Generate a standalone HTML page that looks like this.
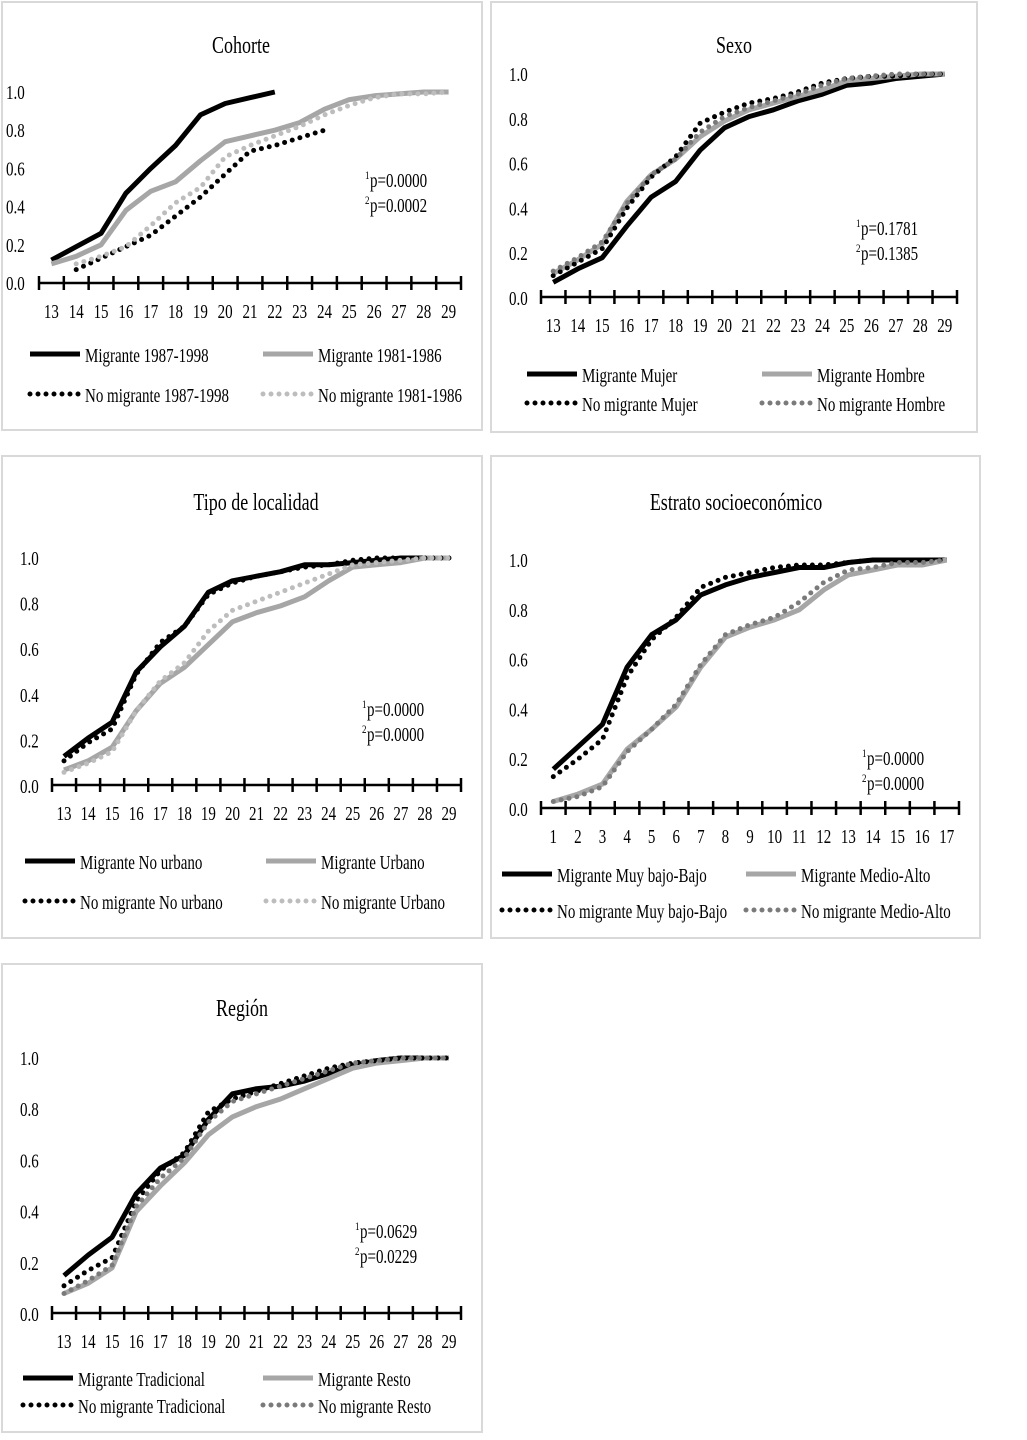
<!DOCTYPE html>
<html><head><meta charset="utf-8"><style>body{margin:0;background:#fff}svg{display:block}</style></head>
<body>
<svg id="chart" width="1027" height="1440" viewBox="0 0 1027 1440" xmlns="http://www.w3.org/2000/svg"></svg>
<script>
// ---- data ----
const agesCats = [13,14,15,16,17,18,19,20,21,22,23,24,25,26,27,28,29];
const estratoCats = [1,2,3,4,5,6,7,8,9,10,11,12,13,14,15,16,17];
const yTicks = ["0.0","0.2","0.4","0.6","0.8","1.0"];

const cohMig8798 = [0.12,0.19,0.26,0.47,0.60,0.72,0.88,0.94,0.97,1.0,null,null,null,null,null,null,null];
const cohMig8186 = [0.10,0.14,0.20,0.38,0.48,0.53,0.64,0.74,0.77,0.80,0.84,0.91,0.96,0.98,0.99,1.0,1.0];
const cohNoMig8798 = [null,0.07,0.13,0.19,0.25,0.35,0.45,0.57,0.69,0.72,0.76,0.80,null,null,null,null,null];
const cohNoMig8186 = [null,0.10,0.14,0.19,0.30,0.42,0.50,0.66,0.72,0.77,0.82,0.88,0.93,0.97,0.99,0.99,1.0];

const sexMigMujer = [0.07,0.13,0.18,0.32,0.45,0.52,0.66,0.76,0.81,0.84,0.88,0.91,0.95,0.96,0.98,0.99,1.0];
const sexMigHombre = [0.11,0.17,0.24,0.43,0.55,0.62,0.72,0.79,0.84,0.87,0.90,0.93,0.97,0.98,0.99,1.0,1.0];
const sexNoMigMujer = [0.10,0.16,0.22,0.40,0.54,0.63,0.78,0.83,0.87,0.89,0.92,0.96,0.98,0.99,0.99,1.0,1.0];
const sexNoMigHombre = [0.12,0.18,0.25,0.42,0.55,0.62,0.74,0.81,0.85,0.88,0.91,0.95,0.98,0.99,1.0,1.0,1.0];

const locMigNoUrb = [0.13,0.21,0.28,0.50,0.61,0.70,0.85,0.90,0.92,0.94,0.97,0.97,0.98,0.99,1.0,1.0,1.0];
const locMigUrb = [0.07,0.11,0.17,0.33,0.45,0.52,0.62,0.72,0.76,0.79,0.83,0.90,0.96,0.97,0.98,1.0,1.0];
const locNoMigNoUrb = [0.11,0.19,0.25,0.49,0.63,0.70,0.84,0.89,0.92,0.94,0.96,0.97,0.99,1.0,1.0,1.0,1.0];
const locNoMigUrb = [0.06,0.10,0.15,0.33,0.46,0.54,0.68,0.77,0.81,0.85,0.89,0.93,0.97,0.98,0.99,1.0,1.0];

const estMigBajo = [0.16,0.25,0.34,0.57,0.70,0.76,0.86,0.90,0.93,0.95,0.97,0.97,0.99,1.0,1.0,1.0,1.0];
const estMigAlto = [0.03,0.06,0.10,0.24,0.32,0.41,0.57,0.69,0.73,0.76,0.80,0.88,0.94,0.96,0.98,0.98,1.0];
const estNoMigBajo = [0.13,0.20,0.28,0.53,0.68,0.77,0.89,0.93,0.95,0.97,0.98,0.98,0.99,1.0,1.0,1.0,1.0];
const estNoMigAlto = [0.03,0.05,0.09,0.23,0.32,0.42,0.58,0.70,0.74,0.77,0.83,0.91,0.96,0.97,0.99,0.99,1.0];

const regMigTrad = [0.15,0.23,0.30,0.47,0.57,0.62,0.76,0.86,0.88,0.89,0.91,0.94,0.97,0.99,1.0,1.0,1.0];
const regMigResto = [0.08,0.12,0.18,0.40,0.50,0.59,0.70,0.77,0.81,0.84,0.88,0.92,0.96,0.98,0.99,1.0,1.0];
const regNoMigTrad = [0.11,0.17,0.22,0.44,0.56,0.63,0.79,0.84,0.87,0.90,0.93,0.96,0.98,0.99,1.0,1.0,1.0];
const regNoMigResto = [0.08,0.13,0.19,0.42,0.53,0.61,0.75,0.83,0.86,0.89,0.92,0.95,0.98,0.99,1.0,1.0,1.0];

// ---- rendering ----
const NS = "http://www.w3.org/2000/svg";
const svg = document.getElementById('chart');
const BLACK = {stroke:"#000", dotted:false}, GREY = {stroke:"#a6a6a6", dotted:false};
const BDOT = {stroke:"#000", dotted:true}, LDOT = {stroke:"#bdbdbd", dotted:true}, DDOT = {stroke:"#7a7a7a", dotted:true};

function mk(tag, attrs, parent){ const e=document.createElementNS(NS,tag); for(const k in attrs) e.setAttribute(k,attrs[k]); (parent||svg).appendChild(e); return e; }
function txt(parent, x, y, s, size, anchor){
  const g = mk('g',{transform:`translate(${x},${y}) scale(0.75,1)`},parent);
  const t = mk('text',{x:0,y:0,'font-family':'"Liberation Serif", serif','font-size':size||20,'text-anchor':anchor||'start',fill:'#000'},g);
  t.textContent = s; return t;
}
function styleLine(el, st){
  el.setAttribute('stroke', st.stroke); el.setAttribute('fill','none');
  if(st.dotted){ el.setAttribute('stroke-width','5'); el.setAttribute('stroke-dasharray','0 8'); el.setAttribute('stroke-linecap','round'); }
  else { el.setAttribute('stroke-width','5'); el.setAttribute('stroke-linejoin','round'); }
}

function panel(p){
  const g = mk('g',{});
  
  
  const box = mk('rect',{x:p.box[0],y:p.box[1],width:p.box[2],height:p.box[3],fill:'#fff',stroke:'#d9d9d9','stroke-width':2},g);
   
  const title = txt(g, p.title[0], p.title[1]+8, p.title[2], 24, 'middle');
   
  const n = p.cats.length, step = (p.ax1-p.ax0)/n;
  const xs = i => p.ax0 + step*(i+0.5);
  const ys = v => p.y0 - (p.y0-p.y1)*v;
  yTicks.forEach((lab,i)=>{
    const t = txt(g, p.ylabX, ys(i*0.2)+7, lab, 20);
     
  });
  const axis = mk('line',{x1:p.ax0,x2:p.ax1,y1:p.axY,y2:p.axY,stroke:'#000','stroke-width':2.5},g);
   
  for(let i=0;i<=n;i++){
    const x = p.ax0+step*i;
    const tk = mk('line',{x1:x,x2:x,y1:p.axY-7,y2:p.axY+7,stroke:'#000','stroke-width':2.5},g);
     
  }
  p.cats.forEach((c,i)=>{
    const t = txt(g, xs(i), p.axY+35, String(c), 20, 'middle');
     
  });
  p.series.forEach(s=>{
    let d='';
    s.data.forEach((v,i)=>{ if(v==null) return; d += (d?'L':'M')+xs(i).toFixed(1)+' '+ys(v).toFixed(1); });
    const path = mk('path',{d:d},g); styleLine(path, s.st);
    
    
  });
  const pv = mk('g',{},g);
   
  p.pvals.forEach((s,i)=>{
    const yy = p.pPos[1]+i*25;
    txt(pv, p.pPos[0], yy-1, String(i+1), 12);
    txt(pv, p.pPos[0]+5, yy+7, 'p='+s, 20);
  });
  p.legend.forEach((L,i)=>{
    const s = p.series[i];
    const lg = mk('g',{},g);
     
    const ln = mk('line',{x1:L[0],x2:L[0]+50,y1:L[1],y2:L[1]},lg); styleLine(ln, s.st);
    txt(lg, L[0]+55, L[1]+8, s.label, 20);
  });
}

panel({name:'panel-cohorte',box:[2,2,480,428],title:[241,45,'Cohorte'],cats:agesCats,ax0:39,ax1:461,axY:283,y0:283,y1:92,ylabX:6,
  pvals:['0.0000','0.0002'],pPos:[365,180],
  series:[{label:'Migrante 1987-1998',data:cohMig8798,st:BLACK},{label:'Migrante 1981-1986',data:cohMig8186,st:GREY},
          {label:'No migrante 1987-1998',data:cohNoMig8798,st:BDOT},{label:'No migrante 1981-1986',data:cohNoMig8186,st:LDOT}],
  legend:[[30,354],[263,354],[30,394],[263,394]]});
panel({name:'panel-sexo',box:[491,2,486,430],title:[734,45,'Sexo'],cats:agesCats,ax0:541,ax1:957,axY:297,y0:298,y1:74,ylabX:509,
  pvals:['0.1781','0.1385'],pPos:[856,228],
  series:[{label:'Migrante Mujer',data:sexMigMujer,st:BLACK},{label:'Migrante Hombre',data:sexMigHombre,st:GREY},
          {label:'No migrante Mujer',data:sexNoMigMujer,st:BDOT},{label:'No migrante Hombre',data:sexNoMigHombre,st:DDOT}],
  legend:[[527,374],[762,374],[527,403],[762,403]]});
panel({name:'panel-tipo-localidad',box:[2,456,480,482],title:[256,502,'Tipo de localidad'],cats:agesCats,ax0:52,ax1:461,axY:785,y0:786,y1:558,ylabX:20,
  pvals:['0.0000','0.0000'],pPos:[362,709],
  series:[{label:'Migrante No urbano',data:locMigNoUrb,st:BLACK},{label:'Migrante Urbano',data:locMigUrb,st:GREY},
          {label:'No migrante No urbano',data:locNoMigNoUrb,st:BDOT},{label:'No migrante Urbano',data:locNoMigUrb,st:LDOT}],
  legend:[[25,861],[266,861],[25,901],[266,901]]});
panel({name:'panel-estrato',box:[491,456,489,482],title:[736,502,'Estrato socioeconómico'],cats:estratoCats,ax0:541,ax1:959,axY:808,y0:809,y1:560,ylabX:509,
  pvals:['0.0000','0.0000'],pPos:[862,758],
  series:[{label:'Migrante Muy bajo-Bajo',data:estMigBajo,st:BLACK},{label:'Migrante Medio-Alto',data:estMigAlto,st:GREY},
          {label:'No migrante Muy bajo-Bajo',data:estNoMigBajo,st:BDOT},{label:'No migrante Medio-Alto',data:estNoMigAlto,st:DDOT}],
  legend:[[502,874],[746,874],[502,910],[746,910]]});
panel({name:'panel-region',box:[2,964,480,468],title:[242,1008,'Región'],cats:agesCats,ax0:52,ax1:461,axY:1313,y0:1314,y1:1058,ylabX:20,
  pvals:['0.0629','0.0229'],pPos:[355,1231],
  series:[{label:'Migrante Tradicional',data:regMigTrad,st:BLACK},{label:'Migrante Resto',data:regMigResto,st:GREY},
          {label:'No migrante Tradicional',data:regNoMigTrad,st:BDOT},{label:'No migrante Resto',data:regNoMigResto,st:DDOT}],
  legend:[[23,1378],[263,1378],[23,1405],[263,1405]]});
</script>
</body></html>
